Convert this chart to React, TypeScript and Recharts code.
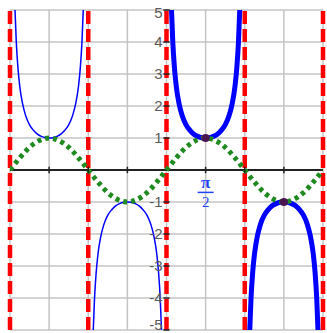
import React from 'react';
import {
  ComposedChart, Line, XAxis, YAxis, CartesianGrid,
  ReferenceLine, ReferenceDot,
} from 'recharts';

// x is measured in multiples of pi, so the asymptotes sit on whole numbers

const SIN_X = [
  -2, -1.875, -1.75, -1.625, -1.5, -1.375, -1.25, -1.125,
  -1, -0.875, -0.75, -0.625, -0.5, -0.375, -0.25, -0.125,
  0, 0.125, 0.25, 0.375, 0.5, 0.625, 0.75, 0.875,
  1, 1.125, 1.25, 1.375, 1.5, 1.625, 1.75, 1.875, 2,
];
const SIN_Y = [
  0, 0.38, 0.71, 0.92, 1, 0.92, 0.71, 0.38,
  0, -0.38, -0.71, -0.92, -1, -0.92, -0.71, -0.38,
  0, 0.38, 0.71, 0.92, 1, 0.92, 0.71, 0.38,
  0, -0.38, -0.71, -0.92, -1, -0.92, -0.71, -0.38, 0,
];

// csc branches, clipped at +/-5
const LEFT_UP_X = [-1.936, -1.92, -1.9, -1.875, -1.84, -1.8, -1.75, -1.7, -1.65, -1.6, -1.55, -1.5,
  -1.45, -1.4, -1.35, -1.3, -1.25, -1.2, -1.16, -1.125, -1.1, -1.08, -1.064];
const LEFT_UP_Y = [5, 4.02, 3.24, 2.61, 2.08, 1.7, 1.41, 1.24, 1.12, 1.05, 1.01, 1,
  1.01, 1.05, 1.12, 1.24, 1.41, 1.7, 2.08, 2.61, 3.24, 4.02, 5];

const LEFT_DOWN_X = [-0.936, -0.92, -0.9, -0.875, -0.84, -0.8, -0.75, -0.7, -0.65, -0.6, -0.55, -0.5,
  -0.45, -0.4, -0.35, -0.3, -0.25, -0.2, -0.16, -0.125, -0.1, -0.08, -0.064];
const LEFT_DOWN_Y = [-5, -4.02, -3.24, -2.61, -2.08, -1.7, -1.41, -1.24, -1.12, -1.05, -1.01, -1,
  -1.01, -1.05, -1.12, -1.24, -1.41, -1.7, -2.08, -2.61, -3.24, -4.02, -5];

const RIGHT_UP_X = [0.064, 0.08, 0.1, 0.125, 0.16, 0.2, 0.25, 0.3, 0.35, 0.4, 0.45, 0.5,
  0.55, 0.6, 0.65, 0.7, 0.75, 0.8, 0.84, 0.875, 0.9, 0.92, 0.936];
const RIGHT_UP_Y = [5, 4.02, 3.24, 2.61, 2.08, 1.7, 1.41, 1.24, 1.12, 1.05, 1.01, 1,
  1.01, 1.05, 1.12, 1.24, 1.41, 1.7, 2.08, 2.61, 3.24, 4.02, 5];

const RIGHT_DOWN_X = [1.064, 1.08, 1.1, 1.125, 1.16, 1.2, 1.25, 1.3, 1.35, 1.4, 1.45, 1.5,
  1.55, 1.6, 1.65, 1.7, 1.75, 1.8, 1.84, 1.875, 1.9, 1.92, 1.936];
const RIGHT_DOWN_Y = [-5, -4.02, -3.24, -2.61, -2.08, -1.7, -1.41, -1.24, -1.12, -1.05, -1.01, -1,
  -1.01, -1.05, -1.12, -1.24, -1.41, -1.7, -2.08, -2.61, -3.24, -4.02, -5];

const ASYMPTOTES = [-2, -1, 0, 1, 2];
const X_TICKS = [-2, -1.5, -1, -0.5, 0, 0.5, 1, 1.5, 2];
const Y_TICKS = [-5, -4, -3, -2, -1, 0, 1, 2, 3, 4, 5];
const Y_LABELS = [-5, -4, -3, -2, -1, 1, 2, 3, 4, 5];
const TOUCH_POINTS = [{ x: 0.5, y: 1 }, { x: 1.5, y: -1 }];

function zip(xs: number[], ys: number[]) {
  return xs.map((x, i) => ({ x, y: ys[i] }));
}

const sinData = zip(SIN_X, SIN_Y);
const branches = [
  { key: 'lu', data: zip(LEFT_UP_X, LEFT_UP_Y), width: 1.5 },
  { key: 'ld', data: zip(LEFT_DOWN_X, LEFT_DOWN_Y), width: 1.5 },
  { key: 'ru', data: zip(RIGHT_UP_X, RIGHT_UP_Y), width: 5 },
  { key: 'rd', data: zip(RIGHT_DOWN_X, RIGHT_DOWN_Y), width: 5 },
];

const LABEL_FONT = '"Liberation Sans", Arial, sans-serif';

// y label left of the axis; the end labels are nudged inside the frame
function YLabel({ cx, cy, value }: any) {
  const shift = value === 5 ? 3 : value === -5 ? -5 : 0;
  return (
    <text x={cx - 4} y={cy + shift} dy="0.36em" textAnchor="end" fontSize={15}
      fontFamily={LABEL_FONT} fill="#5a5a5a">{String(value)}</text>
  );
}

function PiOverTwo({ cx, cy }: any) {
  return (
    <g fill="#2244ff">
      <text x={cx} y={cy - 4} textAnchor="middle" fontSize={17} fontWeight="bold"
        fontFamily='"Liberation Serif", serif'>π</text>
      <line x1={cx - 8} x2={cx + 8} y1={cy} y2={cy} stroke="#2244ff" strokeWidth={1.5} />
      <text x={cx} y={cy + 15} textAnchor="middle" fontSize={15}
        fontFamily='"Liberation Serif", serif'>2</text>
    </g>
  );
}

export default function App() {
  return (
    <div style={{ position: 'fixed', left: 0, top: 0, background: '#fff' }}>
      <ComposedChart width={327} height={333} margin={{ top: 10, right: 4, bottom: 3, left: 10 }}>
        <XAxis type="number" dataKey="x" domain={[-2, 2]} ticks={X_TICKS} hide allowDataOverflow />
        <YAxis type="number" dataKey="y" domain={[-5, 5]} ticks={Y_TICKS} hide allowDataOverflow />
        <CartesianGrid stroke="#c4c4c4" strokeWidth={1.5} />

        <ReferenceLine y={0} stroke="#222" strokeWidth={2} />

        {branches.map((b) => (
          <Line key={b.key} data={b.data} dataKey="y" type="monotone" stroke="#0000ff"
            strokeWidth={b.width} dot={false} isAnimationActive={false} />
        ))}

        {ASYMPTOTES.map((a) => (
          <ReferenceLine key={'a' + a} x={a} stroke="#ff0000" strokeWidth={4.5}
            strokeDasharray="13 5" ifOverflow="visible" />
        ))}

        <Line data={sinData} dataKey="y" type="monotone" stroke="#1f8a1f" strokeWidth={5}
          strokeDasharray="4 4" dot={false} isAnimationActive={false} />

        {Y_TICKS.filter((t) => t !== 0).map((t) => (
          <ReferenceLine key={'yt' + t} segment={[{ x: -0.04, y: t }, { x: 0.04, y: t }]}
            stroke="#222" strokeWidth={1.5} />
        ))}
        {X_TICKS.filter((t) => Math.abs(t) !== 2 && t !== 0).map((t) => (
          <ReferenceLine key={'xt' + t} segment={[{ x: t, y: -0.1 }, { x: t, y: 0.1 }]}
            stroke="#222" strokeWidth={1.5} />
        ))}

        {Y_LABELS.map((t) => (
          <ReferenceDot key={'yl' + t} x={0} y={t} r={0} ifOverflow="visible"
            shape={(props: any) => <YLabel {...props} value={t} />} />
        ))}

        {TOUCH_POINTS.map((p) => (
          <ReferenceDot key={'tp' + p.x} x={p.x} y={p.y} r={4} fill="#4b1550" stroke="none" />
        ))}

        <ReferenceDot x={0.5} y={-0.7} r={0} shape={(props: any) => <PiOverTwo {...props} />} />
      </ComposedChart>
    </div>
  );
}
